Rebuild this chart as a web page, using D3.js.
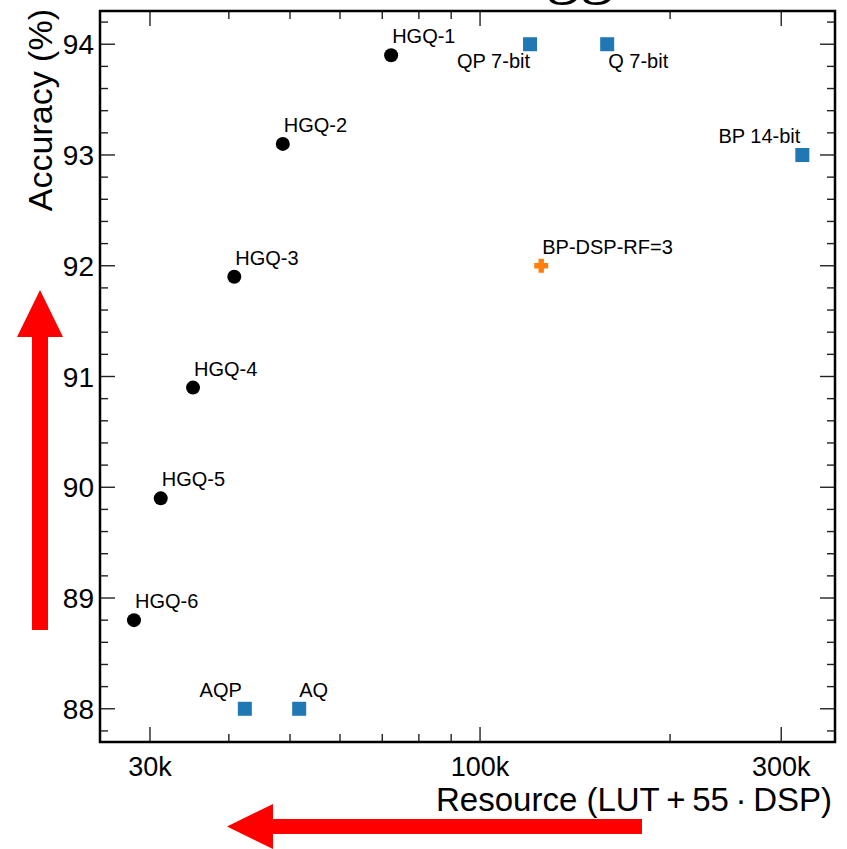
<!DOCTYPE html>
<html><head><meta charset="utf-8">
<script src="https://cdn.jsdelivr.net/npm/d3@7"></script>
<style>
html,body{margin:0;padding:0;background:#fff;}
svg{display:block;font-family:"Liberation Sans",Arial,sans-serif;}
</style></head>
<body>
<script>
// ---- data ----
const hgqLabels   = ["HGQ-1","HGQ-2","HGQ-3","HGQ-4","HGQ-5","HGQ-6"];
const hgqResource = [72300, 48700, 40800, 35100, 31200, 28300];
const hgqAccuracy = [93.9, 93.1, 91.9, 90.9, 89.9, 88.8];

const refLabels   = ["QP 7-bit","Q 7-bit","BP 14-bit","AQP","AQ"];
const refResource = [120000, 159000, 324000, 42400, 51700];
const refAccuracy = [94.0, 94.0, 93.0, 88.0, 88.0];

const rfLabels    = ["BP-DSP-RF=3"];
const rfResource  = [125000];
const rfAccuracy  = [92.0];

const xTickValues = [30000, 100000, 300000];
const xTickLabels = ["30k", "100k", "300k"];
const xMinorTicks = [40000,50000,60000,70000,80000,90000,200000];
const yTickValues = [88, 89, 90, 91, 92, 93, 94];

// label placement (style only)
const labelPlace = {
  "QP 7-bit":  {anchor:"end",   dx: 0,  dy: 24},
  "Q 7-bit":   {anchor:"start", dx: 1,  dy: 24},
  "BP 14-bit": {anchor:"end",   dx: -2, dy: -12},
  "AQP":       {anchor:"end",   dx: -3, dy: -12},
  "AQ":        {anchor:"start", dx: 0,  dy: -12},
  "BP-DSP-RF=3": {anchor:"start", dx: 1, dy: -12}
};

const W = 847, H = 849;
const M = {left:100, right:835, top:11, bottom:742};

const svg = d3.select("body").append("svg").attr("width", W).attr("height", H);

const x = d3.scaleLog().domain([25000, 365000]).range([M.left, M.right]);
const y = d3.scaleLinear().domain([87.7, 94.3]).range([M.bottom, M.top]);

// clipped title remnant
svg.append("text").attr("x", 580).attr("y", -9)
  .attr("text-anchor","middle")
  .style("font-family","'Liberation Serif','DejaVu Serif',serif")
  .style("font-size","68px").text("gg");

// ticks
const tickColor = "#222";
const g = svg.append("g");

function hTick(yv, len){
  g.append("line").attr("x1",M.left).attr("x2",M.left+len).attr("y1",y(yv)).attr("y2",y(yv)).attr("stroke",tickColor).attr("stroke-width",1.4);
  g.append("line").attr("x1",M.right).attr("x2",M.right-len).attr("y1",y(yv)).attr("y2",y(yv)).attr("stroke",tickColor).attr("stroke-width",1.4);
}
function vTick(xv, len){
  g.append("line").attr("y1",M.bottom).attr("y2",M.bottom-len).attr("x1",x(xv)).attr("x2",x(xv)).attr("stroke",tickColor).attr("stroke-width",1.4);
  g.append("line").attr("y1",M.top).attr("y2",M.top+len).attr("x1",x(xv)).attr("x2",x(xv)).attr("stroke",tickColor).attr("stroke-width",1.4);
}
yTickValues.forEach(v => hTick(v, 15));
d3.range(87.8, 94.31, 0.2).forEach(v => {
  const r = Math.round(v*10)/10;
  if (Math.abs(r - Math.round(r)) > 0.01) hTick(r, 8);
});
xTickValues.forEach(v => vTick(v, 15));
xMinorTicks.forEach(v => vTick(v, 8));

// tick labels
svg.append("g").selectAll("text").data(yTickValues).join("text")
  .attr("x", M.left-6).attr("y", d => y(d)).attr("dy","0.36em")
  .attr("text-anchor","end").style("font-size","28px").text(d => d);
svg.append("g").selectAll("text").data(xTickValues).join("text")
  .attr("x", d => x(d)).attr("y", 776)
  .attr("text-anchor","middle").style("font-size","27px").text((d,i) => xTickLabels[i]);

// frame
svg.append("rect").attr("x",M.left).attr("y",M.top)
  .attr("width",M.right-M.left).attr("height",M.bottom-M.top)
  .attr("fill","none").attr("stroke","#000").attr("stroke-width",2.5);

// axis labels
svg.append("text").attr("x", 832).attr("y", 811).attr("text-anchor","end")
  .style("font-size","33px").text("Resource (LUT\u2009+\u200955\u2009\u00B7\u2009DSP)");
svg.append("text").attr("transform","translate(52,9) rotate(-90)")
  .attr("text-anchor","end").style("font-size","34px").text("Accuracy (%)");

// HGQ points
const hgq = hgqLabels.map((l,i) => ({label:l, r:hgqResource[i], a:hgqAccuracy[i]}));
svg.append("g").selectAll("circle").data(hgq).join("circle")
  .attr("cx", d => x(d.r)).attr("cy", d => y(d.a)).attr("r", 7).attr("fill","#000");
svg.append("g").selectAll("text").data(hgq).join("text")
  .attr("x", d => x(d.r)+1).attr("y", d => y(d.a)-12)
  .style("font-size","20px").text(d => d.label);

// reference squares
const refs = refLabels.map((l,i) => ({label:l, r:refResource[i], a:refAccuracy[i]}));
svg.append("g").selectAll("rect").data(refs).join("rect")
  .attr("x", d => x(d.r)-7).attr("y", d => y(d.a)-7).attr("width",14).attr("height",14)
  .attr("fill","#1f77b4");
svg.append("g").selectAll("text").data(refs).join("text")
  .attr("x", d => x(d.r)+labelPlace[d.label].dx).attr("y", d => y(d.a)+labelPlace[d.label].dy)
  .attr("text-anchor", d => labelPlace[d.label].anchor)
  .style("font-size","20px").text(d => d.label);

// RF plus
const rf = rfLabels.map((l,i) => ({label:l, r:rfResource[i], a:rfAccuracy[i]}));
svg.append("g").selectAll("path").data(rf).join("path")
  .attr("transform", d => `translate(${x(d.r)},${y(d.a)})`)
  .attr("d", "M-2.7,-7H2.7V-2.7H7V2.7H2.7V7H-2.7V2.7H-7V-2.7H-2.7Z")
  .attr("fill","#ff7f0e");
svg.append("g").selectAll("text").data(rf).join("text")
  .attr("x", d => x(d.r)+labelPlace[d.label].dx).attr("y", d => y(d.a)+labelPlace[d.label].dy)
  .attr("text-anchor", d => labelPlace[d.label].anchor)
  .style("font-size","20px").text(d => d.label);

// red arrows
svg.append("path").attr("fill","#ff0000")
  .attr("d","M32,630 L32,337 L17,337 L40,290 L63,337 L48,337 L48,630 Z");
svg.append("path").attr("fill","#ff0000")
  .attr("d","M642,819 L273,819 L273,804 L227,826.5 L273,849 L273,834 L642,834 Z");
</script>
</body></html>
